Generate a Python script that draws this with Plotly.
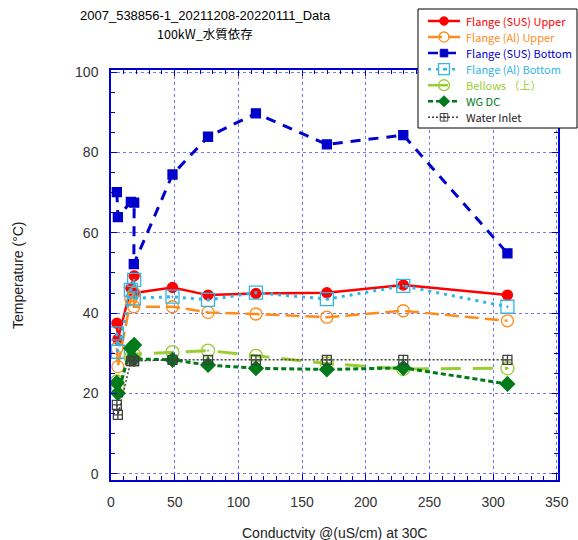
import plotly.graph_objects as go

conductivity = [4.6, 5.4, 15.6, 18.2, 17.9, 48.3, 76.2, 113.8, 169.5, 229.5, 311.3]

sus_upper = [37.5, 33.5, 46.2, 49.3, 45.0, 46.4, 44.5, 44.9, 45.1, 47.0, 44.5]
al_upper = [31.3, 26.7, 43.5, 45.0, 41.6, 41.6, 40.2, 39.8, 39.0, 40.6, 38.1]
sus_bottom = [70.1, 63.9, 67.7, 67.5, 52.2, 74.5, 83.9, 89.7, 82.0, 84.3, 54.9]
al_bottom = [35.0, 30.4, 45.8, 48.3, 43.7, 44.1, 43.3, 45.1, 43.5, 46.8, 41.6]
bellows = [23.0, 21.5, 29.0, 29.6, 29.8, 30.3, 30.7, 29.4, 27.5, 26.1, 26.3]
wg_dc = [22.7, 20.1, 31.3, 32.1, 28.6, 28.4, 27.1, 26.3, 26.0, 26.4, 22.4]
water_inlet = [17.2, 14.7, 28.1, 28.1, 28.1, 28.4, 28.4, 28.4, 28.4, 28.4, 28.4]

names = ["Flange (SUS) Upper", "Flange (Al) Upper", "Flange (SUS) Bottom",
         "Flange (Al) Bottom", "Bellows （上）", "WG DC", "Water Inlet"]

series = [
    (sus_upper, "#FF0000", "solid", 2.5, "circle", 10),
    (al_upper, "#FF8C1A", "14px,6px", 2.5, "circle-open", 12),
    (sus_bottom, "#0000CC", "10px,8px", 3, "square", 9),
    (al_bottom, "#33B5E5", "3px,5px", 3, "square-open-dot", 13),
    (bellows, "#9ACD32", "20px,12px", 3, "circle-open-dot", 13),
    (wg_dc, "#007A1A", "5px,3px", 3, "diamond", 11),
    (water_inlet, "#404040", "2px,2px", 1.5, "square-cross-open", 9),
]
text_colors = ["#FF0000", "#FF8C1A", "#0000CC", "#33B5E5", "#9ACD32", "#007A1A", "#222222"]

fig = go.Figure()
for name, (vals, col, dash, w, sym, sz) in zip(names, series):
    fig.add_trace(go.Scatter(
        x=conductivity, y=vals, mode="lines+markers", name=name, showlegend=False,
        line=dict(color=col, dash=dash, width=w),
        marker=dict(symbol=sym, size=sz, color=col,
                    line=dict(color=col, width=1.3)),
    ))

axis_common = dict(
    showline=True, linecolor="#0000CC", linewidth=1.5, mirror="ticks",
    ticks="inside", ticklen=6, tickcolor="#0000CC", tickwidth=1,
    showgrid=True, gridcolor="rgba(60,60,255,0.7)", griddash="dot", gridwidth=1,
    zeroline=False,
    tickfont=dict(family="Liberation Sans, Arial", size=14, color="#333333"),
)

fig.update_xaxes(range=[0, 351], dtick=50, tick0=0,
                 minor=dict(dtick=10, ticks="inside", ticklen=4, tickcolor="#0000CC", showgrid=False),
                 ticklabelstandoff=8, **axis_common)
fig.update_yaxes(range=[-1.5, 100.5], dtick=20, tick0=0,
                 minor=dict(dtick=5, ticks="inside", ticklen=4, tickcolor="#0000CC", showgrid=False),
                 ticklabelstandoff=8, **axis_common)

# ---- manual legend (pixel layout -> paper coordinates) ----
L, T, W, H = 111, 70, 447, 410


def PX(px):
    return (px - L) / W


def PY(py):
    return 1 - (py - T) / H


shapes = [dict(type="rect", xref="paper", yref="paper", layer="above",
               x0=PX(418), x1=PX(577), y0=PY(9), y1=PY(128),
               fillcolor="white", line=dict(color="black", width=1))]
annotations = []
mx = PX(444)
for i, (name, (vals, col, dash, w, sym, sz)) in enumerate(zip(names, series)):
    ry = 21 + 16.05 * i
    yy = PY(ry)
    shapes.append(dict(type="line", xref="paper", yref="paper", layer="above",
                       x0=PX(428), x1=PX(460), y0=yy, y1=yy,
                       line=dict(color=col, dash=dash, width=min(w, 2.5))))
    r = sz * 0.42
    base = dict(xref="paper", yref="paper", layer="above",
                xsizemode="pixel", ysizemode="pixel", xanchor=mx, yanchor=yy)
    open_fill = "rgba(0,0,0,0)"
    if sym == "circle":
        shapes.append(dict(type="circle", x0=-r, x1=r, y0=-r, y1=r,
                           fillcolor=col, line=dict(color=col, width=1), **base))
    elif sym in ("circle-open", "circle-open-dot"):
        shapes.append(dict(type="circle", x0=-r, x1=r, y0=-r, y1=r,
                           fillcolor=open_fill, line=dict(color=col, width=1.3), **base))
        if sym.endswith("dot"):
            shapes.append(dict(type="circle", x0=-1, x1=1, y0=-1, y1=1,
                               fillcolor=col, line=dict(color=col, width=0.5), **base))
    elif sym == "square":
        shapes.append(dict(type="rect", x0=-r, x1=r, y0=-r, y1=r,
                           fillcolor=col, line=dict(color=col, width=1), **base))
    elif sym == "square-open-dot":
        shapes.append(dict(type="rect", x0=-r, x1=r, y0=-r, y1=r,
                           fillcolor=open_fill, line=dict(color=col, width=1.3), **base))
        shapes.append(dict(type="circle", x0=-1, x1=1, y0=-1, y1=1,
                           fillcolor=col, line=dict(color=col, width=0.5), **base))
    elif sym == "diamond":
        d = r * 1.2
        shapes.append(dict(type="path", path=f"M{-d},0 L0,{d} L{d},0 L0,{-d} Z",
                           fillcolor=col, line=dict(color=col, width=1), **base))
    elif sym == "square-cross-open":
        shapes.append(dict(type="path",
                           path=f"M{-r},{-r} H{r} V{r} H{-r} Z M{-r},0 H{r} M0,{-r} V{r}",
                           fillcolor=open_fill, line=dict(color=col, width=1), **base))
    annotations.append(dict(text=name, xref="paper", yref="paper",
                            x=PX(464), y=yy, xanchor="left", yanchor="middle",
                            showarrow=False,
                            font=dict(family="Noto Sans CJK JP", size=11, color=text_colors[i])))

annotations += [
    dict(text="2007_538856-1_20211208-20220111_Data", xref="paper", yref="paper",
         x=PX(205), y=PY(16), xanchor="center", yanchor="middle", showarrow=False,
         borderpad=0,
         font=dict(family="Liberation Sans, Arial", size=13, color="black")),
    dict(text="100kW_水質依存", xref="paper", yref="paper",
         x=PX(205), y=PY(34), xanchor="center", yanchor="middle", showarrow=False,
         borderpad=0,
         font=dict(family="Noto Sans CJK JP", size=12.5, color="black")),
    dict(text="Temperature (°C)", xref="paper", yref="paper",
         x=PX(18), y=0.5, xanchor="center", yanchor="middle", textangle=-90,
         showarrow=False, font=dict(family="Liberation Sans, Arial", size=14, color="#222222")),
    dict(text="Conductvity @(uS/cm) at 30C", xref="paper", yref="paper",
         x=0.5, y=PY(533), xanchor="center", yanchor="middle",
         showarrow=False, font=dict(family="Liberation Sans, Arial", size=14, color="#222222")),
]

fig.update_layout(
    width=578, height=540,
    margin=dict(l=L, r=578 - L - W, t=T, b=540 - T - H, autoexpand=False),
    paper_bgcolor="white", plot_bgcolor="white",
    showlegend=False,
    shapes=shapes,
    annotations=annotations,
)

fig.write_html("out.html")
